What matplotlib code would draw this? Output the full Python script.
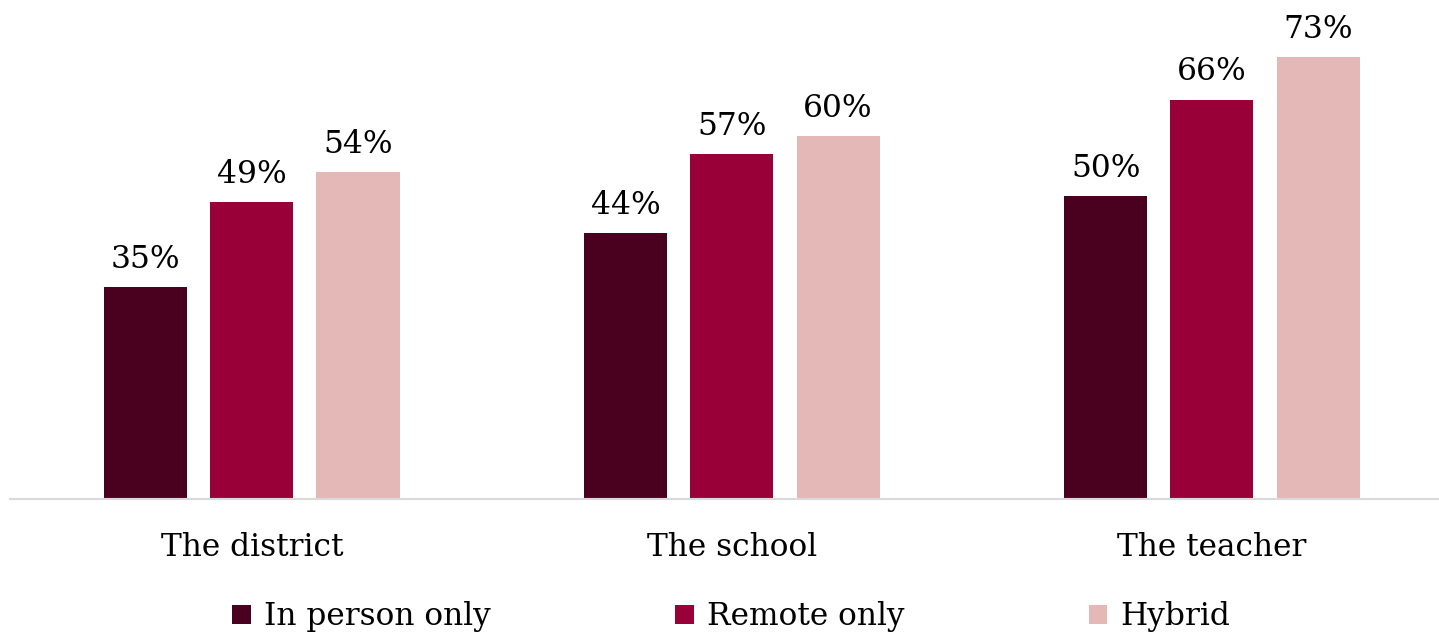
import matplotlib.pyplot as plt
import numpy as np

# 数据
categories = ['The district', 'The school', 'The teacher']
series_names = ['In person only', 'Remote only', 'Hybrid']
in_person = [35, 44, 50]
remote = [49, 57, 66]
hybrid = [54, 60, 73]
colors = ['#4A001F', '#990038', '#E5B8B8']

plt.rcParams['font.family'] = ['DejaVu Serif']

fig = plt.figure(figsize=(14.39, 6.34), dpi=100)
ax = fig.add_axes([10 / 1439, 135 / 634, 1429 / 1439, 486 / 634])

x = np.arange(len(categories))
width = 0.173
offset = 0.221
for i, (vals, name, c) in enumerate(zip([in_person, remote, hybrid], series_names, colors)):
    bars = ax.bar(x + (i - 1) * offset, vals, width, color=c, label=name)
    for b, v in zip(bars, vals):
        ax.text(b.get_x() + b.get_width() / 2, v + 2.0, f'{v}%',
                ha='center', va='bottom', fontsize=22.5)

ax.set_xlim(-0.504, 2.473)
ax.set_ylim(0, 80.3)
ax.set_yticks([])
ax.set_xticks(x)
ax.set_xticklabels(categories, fontsize=22.5)
ax.tick_params(axis='x', length=0, pad=24)
for s in ['top', 'right', 'left']:
    ax.spines[s].set_visible(False)
ax.spines['bottom'].set_color('#D9D9D9')
ax.spines['bottom'].set_linewidth(1.5)

fig.legend(loc='center', bbox_to_anchor=(731 / 1439, 17 / 634), ncol=3, frameon=False,
           fontsize=22.5, handlelength=0.6, handleheight=0.6, handletextpad=0.42,
           columnspacing=5.9)

fig.savefig('out.png', dpi=100)
